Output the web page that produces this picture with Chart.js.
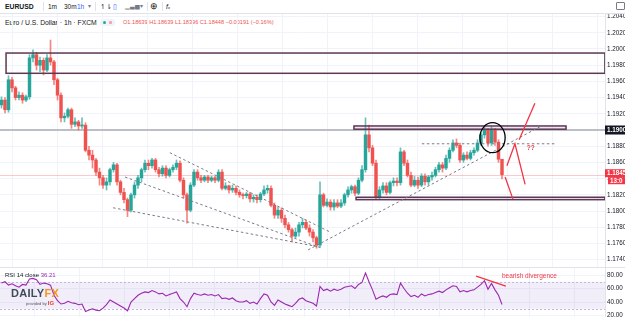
<!DOCTYPE html>
<html>
<head>
<meta charset="utf-8">
<title>EURUSD 1h</title>
<script src="https://cdn.jsdelivr.net/npm/chart.js@4.4.1/dist/chart.umd.min.js"></script>
<style>
  html, body { margin: 0; padding: 0; background: #fff; }
  body { width: 625px; height: 317px; position: relative; overflow: hidden; font-family: "Liberation Sans", Arial, sans-serif; color: #131722; }
  .abs { position: absolute; white-space: nowrap; line-height: 1; }
  #toolbar { position: absolute; left: 0; top: 0; width: 625px; height: 13px; border-bottom: 1px solid #e0e3eb; background: #fff; }
  .vsep { position: absolute; top: 2px; width: 1px; height: 9px; background: #e0e3eb; }
  canvas { position: absolute; left: 0; }
  #main { top: 14px; }
  #rsi { top: 268px; }
  #sep { position: absolute; left: 0; top: 267px; width: 625px; height: 1px; background: #e0e3eb; }
</style>
</head>
<body>
<div id="toolbar">
  <span class="abs" style="left:5px;top:3.5px;font-size:6.8px;font-weight:bold">EURUSD</span>
  <div class="vsep" style="left:43px"></div>
  <span class="abs" style="left:48px;top:4px;font-size:6.5px">1m</span>
  <span class="abs" style="left:64px;top:4px;font-size:6.5px">30m</span>
  <span class="abs" style="left:77px;top:4px;font-size:6.5px;color:#2962ff">1h</span>
  <span class="abs" style="left:88px;top:3px;font-size:6px;color:#787b86">&#9662;</span>
  <div class="vsep" style="left:95px"></div>
  <span class="abs" style="left:100px;top:3px;font-size:7px;color:#131722">&#8639;&#8642;</span>
  <span class="abs" style="left:113px;top:3px;font-size:7px;color:#2962ff">&#9647;</span>
  <span class="abs" style="left:125px;top:3px;font-size:6px;color:#787b86">&#9601;&#9603;&#9605;</span>
  <span class="abs" style="left:140px;top:3px;font-size:6px;color:#787b86">&#9662;</span>
  <div class="vsep" style="left:147px"></div>
  <span class="abs" style="left:150px;top:2px;font-size:8.5px;color:#131722">&#8853;</span>
  <div class="vsep" style="left:162px"></div>
  <span class="abs" style="left:166px;top:3px;font-size:7px;font-style:italic;color:#131722">f<span style="font-size:4px">x</span></span>
  <span class="abs" style="left:616px;top:2px;width:7px;height:6px;border:1px solid #787b86;border-radius:1px"></span>
</div>
<div class="abs" style="left:5px;top:19.5px;font-size:6.8px;color:#131722">Euro / U.S. Dollar · 1h · FXCM</div>
<div class="abs" style="left:100px;top:19px;width:15px;height:7px;background:#f0f3fa;border-radius:3px">
  <span class="abs" style="left:3px;top:2px;width:3px;height:3px;border-radius:2px;background:#26a69a"></span>
  <span class="abs" style="left:9px;top:2px;width:3px;height:3px;border-radius:1px;background:#f7a1a8"></span>
</div>
<div class="abs" style="left:123px;top:20px;font-size:5.6px;color:#ef5350">O1.18639 H1.18639 L1.18396 C1.18448 −0.00191 (−0.16%)</div>

<canvas id="main" width="625" height="253"></canvas>
<div id="sep"></div>
<canvas id="rsi" width="625" height="49"></canvas>

<div class="abs" style="left:5px;top:272px;font-size:6px;color:#131722">RSI 14 close <span style="color:#9c27b0">36.21</span></div>
<div class="abs" style="left:11px;top:288px;font-size:11px;font-weight:bold;letter-spacing:0.3px"><span style="color:#3e4a5a">DAILY</span><span style="color:#f7941d">FX</span></div>
<div class="abs" style="left:26px;top:300px;font-size:4px;color:#555">provided by <span style="font-size:6px;font-weight:bold;color:#e8412c">IG</span></div>

<script>
// hourly EUR/USD candles
const opens = [1.1931,1.1937,1.1925,1.1962,1.1952,1.1940,1.1943,1.1937,1.1941,1.1989,
  1.1993,1.1980,1.1986,1.1974,1.1989,1.1984,1.1962,1.1943,1.1915,1.1917,
  1.1925,1.1907,1.1910,1.1905,1.1906,1.1875,1.1869,1.1863,1.1848,1.1841,
  1.1832,1.1836,1.1851,1.1857,1.1836,1.1823,1.1814,1.1801,1.1820,1.1832,
  1.1841,1.1851,1.1859,1.1856,1.1863,1.1851,1.1846,1.1853,1.1844,1.1851,
  1.1854,1.1859,1.1838,1.1820,1.1801,1.1832,1.1848,1.1841,1.1838,1.1842,
  1.1838,1.1841,1.1838,1.1848,1.1828,1.1831,1.1826,1.1828,1.1823,1.1820,
  1.1819,1.1821,1.1815,1.1817,1.1814,1.1821,1.1826,1.1828,1.1807,1.1795,
  1.1801,1.1791,1.1783,1.1777,1.1769,1.1774,1.1783,1.1786,1.1779,1.1774,
  1.1767,1.1758,1.1820,1.1807,1.1811,1.1805,1.1810,1.1806,1.1810,1.1820,
  1.1826,1.1830,1.1822,1.1838,1.1851,1.1894,1.1878,1.1859,1.1817,1.1826,
  1.1831,1.1823,1.1835,1.1837,1.1835,1.1873,1.1859,1.1844,1.1832,1.1838,
  1.1832,1.1843,1.1836,1.1842,1.1844,1.1851,1.1857,1.1853,1.1865,1.1875,
  1.1884,1.1881,1.1863,1.1869,1.1865,1.1872,1.1875,1.1884,1.1894,1.1900,
  1.1884,1.1900,1.1885,1.18639];
const highs = [1.1941,1.1940,1.1967,1.1965,1.1954,1.1947,1.1946,1.1943,1.1993,1.1999,
  1.1996,1.1990,1.1989,1.1993,1.2011,1.1986,1.1964,1.1946,1.1921,1.1927,
  1.1927,1.1915,1.1912,1.1915,1.1909,1.1880,1.1875,1.1865,1.1853,1.1844,
  1.1841,1.1853,1.1860,1.1859,1.1838,1.1828,1.1816,1.1822,1.1836,1.1844,
  1.1853,1.1863,1.1863,1.1865,1.1865,1.1854,1.1856,1.1856,1.1853,1.1857,
  1.1863,1.1862,1.1841,1.1822,1.1835,1.1851,1.1851,1.1844,1.1844,1.1844,
  1.1843,1.1843,1.1851,1.1851,1.1835,1.1832,1.1832,1.1831,1.1826,1.1822,
  1.1823,1.1823,1.1820,1.1820,1.1823,1.1831,1.1832,1.1831,1.1810,1.1805,
  1.1804,1.1795,1.1786,1.1779,1.1779,1.1786,1.1791,1.1789,1.1783,1.1777,
  1.1769,1.1836,1.1822,1.1815,1.1814,1.1814,1.1814,1.1814,1.1822,1.1830,
  1.1832,1.1832,1.1841,1.1856,1.1915,1.1906,1.1881,1.1863,1.1830,1.1835,
  1.1835,1.1837,1.1841,1.1841,1.1878,1.1875,1.1863,1.1848,1.1843,1.1842,
  1.1846,1.1846,1.1844,1.1848,1.1854,1.1860,1.1860,1.1869,1.1878,1.1888,
  1.1889,1.1884,1.1872,1.1873,1.1875,1.1878,1.1888,1.1896,1.1904,1.1902,
  1.1904,1.1902,1.1888,1.18639];
const lows = [1.1927,1.1921,1.1922,1.1947,1.1937,1.1937,1.1933,1.1935,1.1938,1.1984,
  1.1974,1.1972,1.1968,1.1972,1.1980,1.1956,1.1937,1.1910,1.1910,1.1915,
  1.1902,1.1904,1.1900,1.1902,1.1873,1.1863,1.1853,1.1844,1.1832,1.1828,
  1.1826,1.1832,1.1848,1.1832,1.1820,1.1810,1.1793,1.1799,1.1816,1.1828,
  1.1836,1.1848,1.1851,1.1853,1.1848,1.1842,1.1843,1.1841,1.1842,1.1848,
  1.1851,1.1836,1.1816,1.1785,1.1799,1.1830,1.1838,1.1835,1.1836,1.1835,
  1.1836,1.1835,1.1836,1.1826,1.1826,1.1822,1.1823,1.1820,1.1817,1.1815,
  1.1816,1.1811,1.1811,1.1810,1.1811,1.1819,1.1822,1.1805,1.1791,1.1791,
  1.1786,1.1779,1.1774,1.1762,1.1767,1.1769,1.1779,1.1777,1.1769,1.1762,
  1.1754,1.1755,1.1805,1.1805,1.1801,1.1801,1.1804,1.1804,1.1807,1.1817,
  1.1822,1.1819,1.1820,1.1836,1.1848,1.1873,1.1856,1.1814,1.1814,1.1822,
  1.1820,1.1821,1.1831,1.1831,1.1832,1.1856,1.1842,1.1830,1.1830,1.1828,
  1.1830,1.1832,1.1832,1.1838,1.1842,1.1848,1.1848,1.1851,1.1860,1.1873,
  1.1878,1.1860,1.1860,1.1863,1.1863,1.1869,1.1873,1.1881,1.1890,1.1880,
  1.1881,1.1881,1.1860,1.18396];
const closes = [1.1937,1.1925,1.1962,1.1952,1.1940,1.1943,1.1937,1.1941,1.1989,1.1993,
  1.1980,1.1986,1.1974,1.1989,1.1984,1.1962,1.1943,1.1915,1.1917,1.1925,
  1.1907,1.1910,1.1905,1.1906,1.1875,1.1869,1.1863,1.1848,1.1841,1.1832,
  1.1836,1.1851,1.1857,1.1836,1.1823,1.1814,1.1801,1.1820,1.1832,1.1841,
  1.1851,1.1859,1.1856,1.1863,1.1851,1.1846,1.1853,1.1844,1.1851,1.1854,
  1.1859,1.1838,1.1820,1.1801,1.1832,1.1848,1.1841,1.1838,1.1842,1.1838,
  1.1841,1.1838,1.1848,1.1828,1.1831,1.1826,1.1828,1.1823,1.1820,1.1819,
  1.1821,1.1815,1.1817,1.1814,1.1821,1.1826,1.1828,1.1807,1.1795,1.1801,
  1.1791,1.1783,1.1777,1.1769,1.1774,1.1783,1.1786,1.1779,1.1774,1.1767,
  1.1758,1.1820,1.1807,1.1811,1.1805,1.1810,1.1806,1.1810,1.1820,1.1826,
  1.1830,1.1822,1.1838,1.1851,1.1894,1.1878,1.1859,1.1817,1.1826,1.1831,
  1.1823,1.1835,1.1837,1.1835,1.1873,1.1859,1.1844,1.1832,1.1838,1.1832,
  1.1843,1.1836,1.1842,1.1844,1.1851,1.1857,1.1853,1.1865,1.1875,1.1884,
  1.1881,1.1863,1.1869,1.1865,1.1872,1.1875,1.1884,1.1894,1.1900,1.1884,
  1.1900,1.1885,1.18639,1.18448];
const rsi14 = [68,70,65,67,64,62,66,65,74,75,
  73,66,68,67,65,50,42,37,38,41,
  39,38,36,37,26,28,30,28,27,31,
  36,43,40,37,34,31,27,40,45,50,
  53,55,54,57,55,52,53,49,51,53,
  55,45,40,33,45,53,51,50,52,50,
  51,49,51,45,46,44,46,42,40,40,
  42,38,40,37,45,52,50,40,35,43,
  40,37,35,33,38,44,46,42,40,38,
  34,63,57,59,56,59,57,59,62,63,
  64,60,66,69,83,70,58,44,47,49,
  47,51,52,51,68,60,53,48,50,47,
  52,49,51,52,54,56,54,58,61,64,
  63,55,57,55,57,58,62,66,71.5,59,
  67.5,58,50,36.21];

const priceTicks = [1.2040,1.2020,1.2000,1.1980,1.1960,1.1940,1.1920,1.1900,1.1880,1.1860,1.1840,1.1820,1.1800,1.1780,1.1760,1.1740];
const rsiTicks = [80, 60, 40, 20];

// drawings on the chart, in bar index / price units
const zones = [
  { from: 1.3, to: 172.4, hi: 1.1995, lo: 1.1970, filled: false },
  { from: 100.7, to: 161.3, hi: 1.1905, lo: 1.1901, filled: true },
  { from: 101.3, to: 172.4, hi: 1.1817, lo: 1.1814, filled: true },
];
const keyLevel = 1.1900;
const dashedLines = [
  [[48.1, 1.1872], [93.9, 1.1774]],
  [[35.3, 1.1842], [91.6, 1.1754]],
  [[31.9, 1.1804], [90.4, 1.1756]],
  [[87.6, 1.1752], [154.7, 1.1906]],
  [[120.1, 1.1883], [158.1, 1.1883]],
];
const scenarioPaths = [
  [[143.9, 1.1842], [146.1, 1.1815]],
  [[144.4, 1.1856], [146.7, 1.1883], [149.6, 1.1833]],
  [[147.9, 1.1888], [152.4, 1.1933]],
];
const topCircle = { from: 136.7, to: 143.9, hi: 1.1909, lo: 1.1872 };
const questionMark = [150.1, 1.1878];
const divergenceLine = [[135.6, 78.5], [144.1, 63.5]];
const divergenceLabel = [143.0, 78.5];

Chart.defaults.font.family = '"Liberation Sans", Arial, sans-serif';

const GREEN = '#26a69a', RED = '#ef5350';
const X_MIN = -0.43, X_MAX = 172.43;
const lastClose = closes[closes.length - 1];

// faint vertical grid, every ~13 bars
function xGrid(scale) {
  const t = [];
  for (let k = 0; k < 13; k++) t.push({ value: 9.57 + 12.857 * k });
  scale.ticks = t;
}
function noPad(scale) {
  scale.paddingTop = 0; scale.paddingBottom = 0;
}

function pt(c, p) {
  return [c.scales.x.getPixelForValue(p[0]), c.scales.y.getPixelForValue(p[1])];
}
function strokePath(ctx, c, pts) {
  ctx.beginPath();
  pts.forEach((p, k) => {
    const [x, y] = pt(c, p);
    if (k) ctx.lineTo(x, y); else ctx.moveTo(x, y);
  });
  ctx.stroke();
}

const bodyData = closes.map((c, i) => ({ x: i, y: [opens[i], c] }));
const wickData = closes.map((c, i) => ({ x: i, y: [lows[i], highs[i]] }));
const bodyColors = closes.map((c, i) => c >= opens[i] ? GREEN : RED);
const wickColors = closes.map((c, i) => c >= opens[i] ? 'rgba(38,166,154,0.7)' : 'rgba(239,83,80,0.7)');

const mainOverlay = {
  id: 'mainOverlay',
  beforeDatasetsDraw(c) {
    const { ctx, chartArea: a } = c;
    const y = c.scales.y;
    ctx.save();
    const ly = y.getPixelForValue(keyLevel);
    ctx.strokeStyle = '#bdbfc6'; ctx.lineWidth = 2;
    ctx.beginPath(); ctx.moveTo(a.left, ly); ctx.lineTo(a.right, ly); ctx.stroke();
    const cy = Math.round(y.getPixelForValue(lastClose)) + 0.5;
    ctx.strokeStyle = 'rgba(239,83,80,0.3)'; ctx.lineWidth = 1;
    ctx.beginPath(); ctx.moveTo(a.left, cy); ctx.lineTo(a.right, cy); ctx.stroke();
    ctx.restore();
  },
  afterDatasetsDraw(c) {
    const { ctx, chartArea: a } = c;
    ctx.save();
    ctx.beginPath(); ctx.rect(a.left, a.top, a.width, a.height); ctx.clip();

    zones.forEach(z => {
      const [x0, y0] = pt(c, [z.from, z.hi]);
      const [x1, y1] = pt(c, [z.to, z.lo]);
      if (z.filled) { ctx.fillStyle = 'rgba(156,39,176,0.13)'; ctx.fillRect(x0, y0, x1 - x0, y1 - y0); }
      ctx.strokeStyle = '#5d3854'; ctx.lineWidth = 1.5;
      ctx.strokeRect(x0, y0, x1 - x0, y1 - y0);
    });

    ctx.strokeStyle = '#787b86'; ctx.lineWidth = 1; ctx.setLineDash([2.5, 2.5]);
    dashedLines.forEach(l => strokePath(ctx, c, l));
    ctx.setLineDash([]);

    const [cx0, cy0] = pt(c, [topCircle.from, topCircle.hi]);
    const [cx1, cy1] = pt(c, [topCircle.to, topCircle.lo]);
    ctx.strokeStyle = '#000'; ctx.lineWidth = 1.3;
    ctx.beginPath();
    ctx.ellipse((cx0 + cx1) / 2, (cy0 + cy1) / 2, (cx1 - cx0) / 2, (cy1 - cy0) / 2, 0, 0, Math.PI * 2);
    ctx.stroke();

    ctx.strokeStyle = '#f23645'; ctx.lineWidth = 1.3;
    scenarioPaths.forEach(p => strokePath(ctx, c, p));

    const [qx, qy] = pt(c, questionMark);
    ctx.fillStyle = '#f23645'; ctx.font = 'bold 6.5px "Liberation Sans"';
    ctx.textBaseline = 'middle'; ctx.textAlign = 'left';
    ctx.fillText('??', qx, qy);
    ctx.restore();
  },
  afterDraw(c) {
    const { ctx, chartArea: a } = c;
    const y = c.scales.y;
    ctx.save();
    ctx.font = 'bold 6.3px "Liberation Sans"';
    ctx.textBaseline = 'middle'; ctx.textAlign = 'left';
    const ky = y.getPixelForValue(keyLevel);
    ctx.fillStyle = '#131722'; ctx.fillRect(a.right, ky - 4.5, 20, 9);
    ctx.fillStyle = '#fff'; ctx.fillText(keyLevel.toFixed(4), a.right + 2, ky + 0.5);
    const py = y.getPixelForValue(lastClose) - 1.5;
    ctx.fillStyle = '#f23645'; ctx.fillRect(a.right, py - 4, 20, 8);
    ctx.fillStyle = '#fff'; ctx.fillText(lastClose.toFixed(4), a.right + 2, py + 0.5);
    ctx.fillStyle = '#f23645'; ctx.fillRect(a.right + 3, py + 4, 17, 7);
    ctx.fillStyle = '#fff'; ctx.fillText('13:0', a.right + 5, py + 8);
    ctx.restore();
  }
};

new Chart(document.getElementById('main'), {
  type: 'bar',
  data: {
    datasets: [
      { data: bodyData, backgroundColor: bodyColors, barThickness: 2.8, minBarLength: 1, grouped: false, borderWidth: 0 },
      { data: wickData, backgroundColor: wickColors, barThickness: 1, grouped: false, borderWidth: 0 }
    ]
  },
  options: {
    responsive: false,
    animation: false,
    devicePixelRatio: 1,
    layout: { padding: 0 },
    plugins: { legend: { display: false }, tooltip: { enabled: false } },
    scales: {
      x: {
        type: 'linear', min: X_MIN, max: X_MAX, offset: false,
        afterBuildTicks: xGrid,
        ticks: { display: false },
        grid: { color: '#f0f3fa', drawTicks: false },
        border: { display: false },
        afterFit: s => { s.height = 0; }
      },
      y: {
        position: 'right', min: 1.17309, max: 1.20432,
        afterBuildTicks: s => { s.ticks = priceTicks.map(v => ({ value: v })); },
        ticks: { autoSkip: false, callback: v => v.toFixed(4), font: { size: 6.3 }, color: '#131722', padding: 2 },
        grid: { color: '#f0f3fa', drawTicks: false },
        border: { color: '#e0e3eb' },
        afterFit: s => { s.width = 20; noPad(s); }
      }
    }
  },
  plugins: [mainOverlay]
});

const rsiOverlay = {
  id: 'rsiOverlay',
  beforeDatasetsDraw(c) {
    const { ctx, chartArea: a } = c;
    const y = c.scales.y;
    const y70 = y.getPixelForValue(70), y30 = y.getPixelForValue(30);
    ctx.save();
    ctx.fillStyle = 'rgba(126,87,194,0.1)';
    ctx.fillRect(a.left, y70, a.width, y30 - y70);
    ctx.strokeStyle = '#c4b5e2'; ctx.lineWidth = 1; ctx.setLineDash([2, 2]);
    [y70, y30].forEach(v => {
      ctx.beginPath(); ctx.moveTo(a.left, Math.round(v) + 0.5); ctx.lineTo(a.right, Math.round(v) + 0.5); ctx.stroke();
    });
    ctx.restore();
  },
  afterDatasetsDraw(c) {
    const { ctx } = c;
    ctx.save();
    ctx.strokeStyle = '#f23645'; ctx.lineWidth = 1.3;
    strokePath(ctx, c, divergenceLine);
    const [tx, ty] = pt(c, divergenceLabel);
    ctx.fillStyle = '#f23645'; ctx.font = '6.5px "Liberation Sans"';
    ctx.textBaseline = 'middle'; ctx.textAlign = 'left';
    ctx.fillText('bearish divergence', tx, ty);
    ctx.restore();
  }
};

new Chart(document.getElementById('rsi'), {
  type: 'line',
  data: {
    datasets: [{
      data: rsi14.map((v, i) => ({ x: i, y: v })),
      borderColor: '#9c27b0', borderWidth: 1.1, pointRadius: 0, tension: 0
    }]
  },
  options: {
    responsive: false,
    animation: false,
    devicePixelRatio: 1,
    layout: { padding: 0 },
    plugins: { legend: { display: false }, tooltip: { enabled: false } },
    scales: {
      x: {
        type: 'linear', min: X_MIN, max: X_MAX,
        afterBuildTicks: xGrid,
        ticks: { display: false },
        grid: { color: '#f0f3fa', drawTicks: false },
        border: { display: false },
        afterFit: s => { s.height = 0; }
      },
      y: {
        position: 'right', min: 17.78, max: 90.37,
        afterBuildTicks: s => { s.ticks = rsiTicks.map(v => ({ value: v })); },
        ticks: { autoSkip: false, callback: v => v.toFixed(2), font: { size: 6.3 }, color: '#131722', padding: 2 },
        grid: { color: '#f0f3fa', drawTicks: false },
        border: { color: '#e0e3eb' },
        afterFit: s => { s.width = 20; noPad(s); }
      }
    }
  },
  plugins: [rsiOverlay]
});
</script>
</body>
</html>
